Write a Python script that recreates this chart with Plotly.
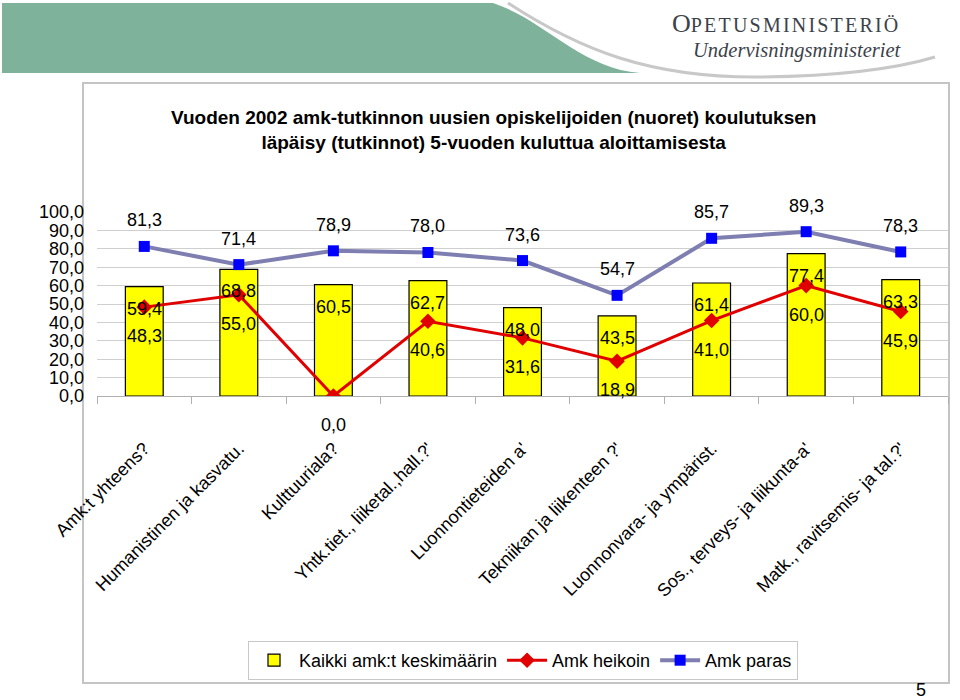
import plotly.graph_objects as go

categories = [
    "Amk:t yhteens?",
    "Humanistinen ja kasvatu.",
    "Kulttuuriala?",
    "Yhtk.tiet., liiketal.,hall.?'",
    "Luonnontieteiden a'",
    "Tekniikan ja liikenteen ?'",
    "Luonnonvara- ja ympärist.",
    "Sos., terveys- ja liikunta-a'",
    "Matk., ravitsemis- ja tal.?'",
]
avg_all = [59.4, 68.8, 60.5, 62.7, 48.0, 43.5, 61.4, 77.4, 63.3]
weakest = [48.3, 55.0, 0.0, 40.6, 31.6, 18.9, 41.0, 60.0, 45.9]
best = [81.3, 71.4, 78.9, 78.0, 73.6, 54.7, 85.7, 89.3, 78.3]
y_ticks = [0, 10, 20, 30, 40, 50, 60, 70, 80, 90, 100]

series_names = ["Kaikki amk:t keskimäärin", "Amk heikoin", "Amk paras"]
title_text = ("<b>Vuoden 2002 amk-tutkinnon uusien opiskelijoiden (nuoret) koulutuksen<br>"
              "läpäisy (tutkinnot) 5-vuoden kuluttua aloittamisesta</b>")

W, H = 960, 700
L, R, T, B = 97, 12, 212, 304
PW, PH = W - L - R, H - T - B


def px(x):
    return (x - L) / PW


def py(y):
    return (H - B - y) / PH


FONT = "Liberation Sans, Arial, sans-serif"
SERIF = "Liberation Serif, Times New Roman, DejaVu Serif, serif"

fig = go.Figure()
fig.add_trace(go.Bar(
    x=categories, y=avg_all, name=series_names[0], width=0.4,
    marker=dict(color="#FFFF00", line=dict(color="#000000", width=1.2)),
))
fig.add_trace(go.Scatter(
    x=categories, y=weakest, name=series_names[1], mode="lines+markers",
    line=dict(color="#E00000", width=3),
    marker=dict(symbol="diamond", size=12, color="#E00000"),
))
fig.add_trace(go.Scatter(
    x=categories, y=best, name=series_names[2], mode="lines+markers",
    line=dict(color="#7E7EB0", width=4),
    marker=dict(symbol="square", size=11, color="#0000FF"),
))


def fmt(v):
    return f"{v:.1f}".replace(".", ",")


annotations = []
for c, v in zip(categories, avg_all):
    annotations.append(dict(x=c, y=v, text=fmt(v), showarrow=False, yshift=-22,
                            font=dict(family=FONT, size=18, color="black")))
for c, v in zip(categories, weakest):
    annotations.append(dict(x=c, y=v, text=fmt(v), showarrow=False, yshift=-29,
                            font=dict(family=FONT, size=18, color="black")))
for c, v in zip(categories, best):
    annotations.append(dict(x=c, y=v, text=fmt(v), showarrow=False, yshift=26,
                            font=dict(family=FONT, size=18, color="black")))

# title
annotations.append(dict(xref="paper", yref="paper", x=px(493), y=py(130), text=title_text,
                        showarrow=False, xanchor="center", yanchor="middle",
                        font=dict(family=FONT, size=19, color="black")))
# logo
annotations.append(dict(xref="paper", yref="paper", x=px(786), y=py(23),
                        text="O<span style='font-size:20px;letter-spacing:2.2px'>PETUSMINISTERIÖ</span>",
                        showarrow=False, xanchor="center", yanchor="middle",
                        font=dict(family=SERIF, size=26, color="#3C424A")))
annotations.append(dict(xref="paper", yref="paper", x=px(797), y=py(50),
                        text="<i>Undervisningsministeriet</i>",
                        showarrow=False, xanchor="center", yanchor="middle",
                        font=dict(family=SERIF, size=20.5, color="#3C424A")))
# page number
annotations.append(dict(xref="paper", yref="paper", x=px(921), y=py(690), text="5",
                        showarrow=False, xanchor="center", yanchor="middle",
                        font=dict(family=FONT, size=18, color="black")))

shapes = [
    # green header band
    dict(type="path", xref="paper", yref="paper", layer="below",
         path=(f"M {px(2)},{py(3)} L {px(493)},{py(3)} "
               f"C {px(545)},{py(20)} {px(580)},{py(68)} {px(640)},{py(73)} "
               f"L {px(2)},{py(73)} Z"),
         fillcolor="#7FB29B", line=dict(width=0)),
    # gray swoosh
    dict(type="path", xref="paper", yref="paper", layer="below",
         path=(f"M {px(508)},{py(3)} C {px(580)},{py(50)} {px(650)},{py(78)} {px(760)},{py(77)} "
               f"C {px(850)},{py(76)} {px(905)},{py(66)} {px(935)},{py(57)}"),
         line=dict(color="#C8C8C8", width=3)),
    # frame
    dict(type="rect", xref="paper", yref="paper", layer="below",
         x0=px(83), y0=py(83), x1=px(949), y1=py(683),
         line=dict(color="#C4C4C4", width=2), fillcolor="rgba(0,0,0,0)"),
]

fig.update_layout(
    width=W, height=H,
    margin=dict(l=L, r=R, t=T, b=B),
    paper_bgcolor="white", plot_bgcolor="white",
    separators=", ",
    font=dict(family=FONT, size=18, color="black"),
    showlegend=True,
    legend=dict(orientation="h", xanchor="center", yanchor="top",
                x=px(523), y=py(641), bordercolor="#C8C8C8", borderwidth=1,
                font=dict(family=FONT, size=18, color="black"),
                traceorder="normal", itemwidth=40),
    annotations=annotations,
    shapes=shapes,
    bargap=0.6,
)
fig.update_xaxes(
    type="category", range=[-0.5, len(categories) - 0.5],
    tickson="boundaries", ticks="outside", ticklen=7, tickcolor="#B0B0B0",
    showline=True, linecolor="#B0B0B0", linewidth=1,
    tickangle=-45, ticklabelstandoff=34,
    tickfont=dict(family=FONT, size=18, color="black"),
    showgrid=False,
)
fig.update_yaxes(
    range=[0, 100], tickvals=y_ticks, tickformat=".1f",
    showgrid=True, gridcolor="#CFCFCF", gridwidth=1,
    zeroline=False, showline=False, ticks="",
    ticklabelstandoff=12,
    tickfont=dict(family=FONT, size=18, color="black"),
)

fig.write_html("out.html", config={"displayModeBar": False},
               post_script="document.body.style.margin='0';document.body.style.overflow='hidden';")
